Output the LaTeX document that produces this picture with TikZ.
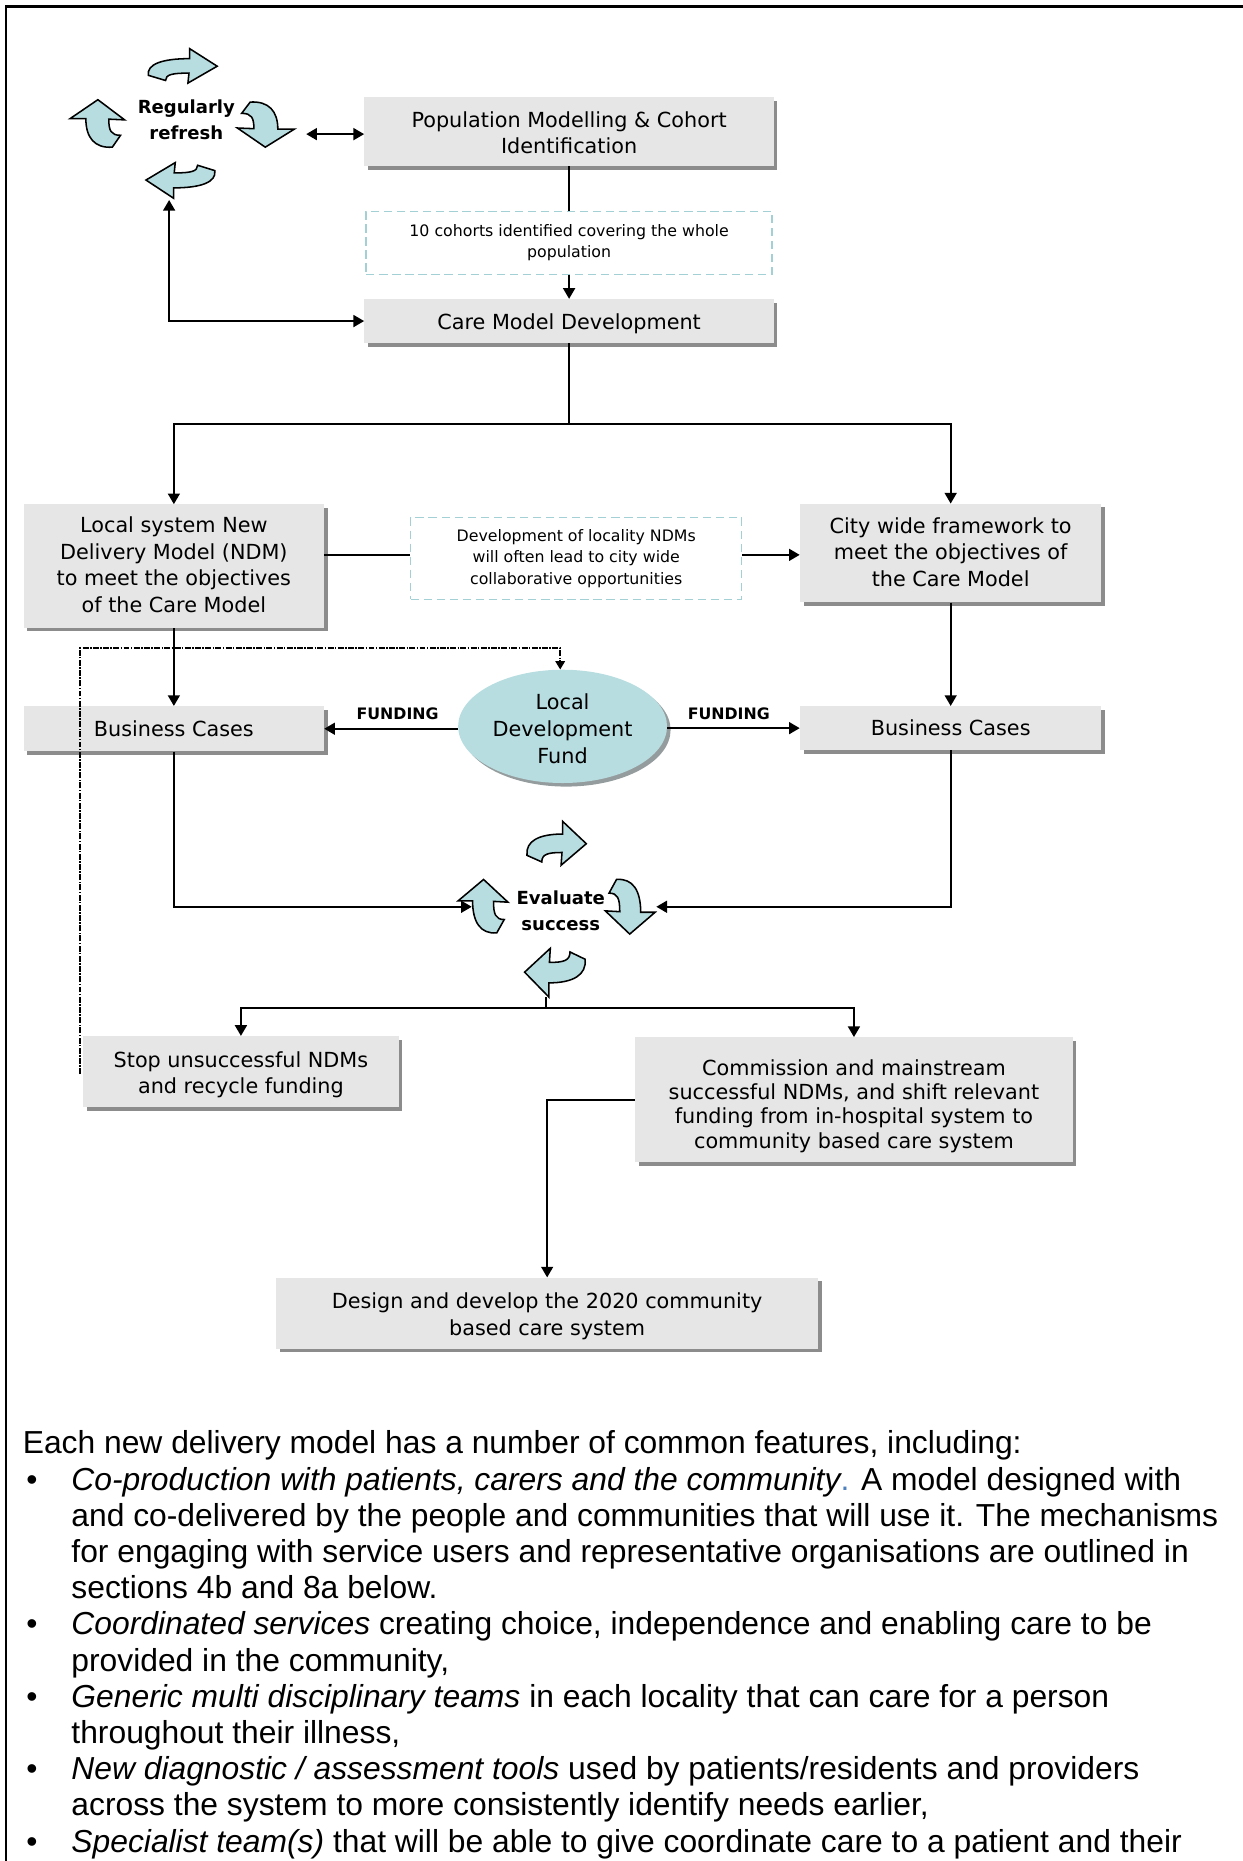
\documentclass[tikz,border=0pt]{standalone}
\usepackage{fontspec}
\setmainfont{Liberation Sans}
\newfontfamily\boxfont{DejaVu Sans}
\usetikzlibrary{arrows.meta,shadows,shapes.geometric}

\definecolor{boxgray}{HTML}{E6E6E6}
\definecolor{shadowgray}{HTML}{8C8C8C}
\definecolor{cyclefill}{HTML}{B7DDE0}
\definecolor{dashteal}{HTML}{A3D0D4}
\definecolor{notedot}{HTML}{4F81BD}

% centred lines of box text, set a little below the box centre
\newcommand\boxlines[2][-3pt]{\raisebox{#1}[\height][\depth]{\begin{tabular}{@{}c@{}}#2\end{tabular}}}

\tikzset{
  box/.style={fill=boxgray, inner sep=0pt,
    general shadow={fill=shadowgray, shadow xshift=3pt, shadow yshift=-3pt},
    font=\boxfont\fontsize{17.5}{22.3}\selectfont},
  note/.style={draw=dashteal, line width=1.1pt, dash pattern=on 7pt off 4pt,
    fill=white, inner sep=0pt, align=center,
    font=\boxfont\fontsize{13.3}{18}\selectfont},
  fund/.style={ellipse, fill=cyclefill, inner sep=0pt,
    general shadow={fill=shadowgray!80!cyclefill, shadow xshift=3pt, shadow yshift=-3pt},
    font=\boxfont\fontsize{17.5}{22.5}\selectfont},
  cyctext/.style={align=center, inner sep=0pt,
    font=\boxfont\bfseries\fontsize{15.2}{22}\selectfont},
  fundlabel/.style={inner sep=0pt, font=\boxfont\bfseries\fontsize{13.3}{16}\selectfont},
  plain/.style={line width=1.7pt},
  conn/.style={line width=1.7pt, -{Triangle[length=9pt,width=10pt]}},
  twoway/.style={line width=1.7pt, {Triangle[length=9pt,width=10pt]}-{Triangle[length=9pt,width=10pt]}},
  dotline/.style={line width=1.3pt, dash pattern=on 5pt off 1.2pt on 1.2pt off 1.2pt,
    -{Triangle[length=7pt,width=8pt]}},
  body/.style={inner sep=0pt, anchor=base west, font=\fontsize{26.8}{31}\selectfont},
  % bent block arrow pointing along +x; scaled and turned where it is placed
  cyc/.pic={
    \path[fill=cyclefill, draw=black, line width=1.3pt, line join=miter]
      (-1,0.55) .. controls (-1.05,-0.1) and (-0.6,-0.42) .. (0.2,-0.42)
      -- (0.2,-1) -- (1,0.02) -- (0.15,1) -- (0.18,0.42)
      .. controls (-0.3,0.42) and (-0.5,0.5) .. (-0.5,0.85)
      -- cycle;
  }
}

\begin{document}
\begin{tikzpicture}[x=1pt, y=-1pt]
\useasboundingbox (0,0) rectangle (1047,1568);

% page frame
\draw[line width=2pt] (5,1570) -- (5,5.5) -- (1050,5.5);

% "Regularly refresh" cycle
\pic[xscale=29, yscale=14.5] at (154,55.5) {cyc};
\pic[rotate=-90, xscale=19, yscale=24] at (224,105) {cyc};
\pic[rotate=180, xscale=29, yscale=15] at (152,152) {cyc};
\pic[rotate=90, xscale=20, yscale=23] at (82,104) {cyc};
\node[cyctext] (rf) at (157,101) {Regularly\\refresh};

% top chain
\node[box, minimum width=345pt, minimum height=58pt] (pop) at (479.5,111)
  {\boxlines{Population Modelling \& Cohort\\Identification}};
\node[note, minimum width=342pt, minimum height=53pt] (coh) at (479.5,204.5)
  {10 cohorts identified covering the whole\\population};
\node[box, minimum width=345pt, minimum height=37pt] (care) at (479.5,270.5)
  {\boxlines{Care Model Development}};

% second tier
\node[box, minimum width=253pt, minimum height=104pt] (local) at (146.5,477)
  {\boxlines[-1pt]{Local system New\\Delivery Model (NDM)\\to meet the objectives\\of the Care Model}};
\node[note, minimum width=279pt, minimum height=69pt] (ndm) at (485.5,470.5)
  {Development of locality NDMs\\will often lead to city wide\\collaborative opportunities};
\node[box, minimum width=254pt, minimum height=83pt] (city) at (801,466)
  {\boxlines[-1pt]{City wide framework to\\meet the objectives of\\the Care Model}};

% business cases and fund
\node[box, minimum width=253pt, minimum height=38pt] (bcl) at (146.5,614)
  {\boxlines[-2pt]{Business Cases}};
\node[box, minimum width=254pt, minimum height=37pt] (bcr) at (801,613.5)
  {\boxlines[-2pt]{Business Cases}};
\node[fund, minimum width=176pt, minimum height=95pt] (ldf) at (474,612)
  {\boxlines[-4pt]{Local\\Development\\Fund}};
\node[fundlabel] (fl) at (335,601.5) {FUNDING};
\node[fundlabel] (fr) at (614,601.5) {FUNDING};

% "Evaluate success" cycle
\pic[xscale=25, yscale=18.5] at (469,710.5) {cyc};
\pic[rotate=-90, xscale=23, yscale=21] at (531,764) {cyc};
\pic[rotate=180, xscale=25.5, yscale=20.5] at (467.5,819.5) {cyc};
\pic[rotate=90, xscale=22.5, yscale=21] at (407,763.5) {cyc};
\node[cyctext] (ev) at (472.5,767) {Evaluate\\success};

% outcomes
\node[box, minimum width=266pt, minimum height=60pt] (stop) at (203,903)
  {\boxlines{Stop unsuccessful NDMs\\and recycle funding}};
\node[box, minimum width=369pt, minimum height=105pt,
  font=\boxfont\fontsize{17.5}{20.5}\selectfont] (com) at (719.5,926.5)
  {\boxlines[-6pt]{Commission and mainstream\\successful NDMs, and shift relevant\\funding from in-hospital system to\\community based care system}};
\node[box, minimum width=457pt, minimum height=60pt] (des) at (461,1106.5)
  {\boxlines{Design and develop the 2020 community\\based care system}};

% connector end points
\coordinate (rfA) at (258,113);
\coordinate (rfB) at (142.5,168.5);
\coordinate (split1) at (479.5,357);
\coordinate (evL) at (397.5,764);
\coordinate (evR) at (553,764);
\coordinate (evB) at (460,840);
\coordinate (split2) at (460,849);
\coordinate (dotS) at (67.5,905);
\coordinate (dotK) at (472,546);

% connectors
\draw[twoway] (rfA) -- (rfA -| pop.west);
\draw[plain] (pop.south) -- (coh.north);
\draw[conn] (coh.south) -- (care.north);
\draw[twoway] (care.west) -| (rfB);
\draw[plain] (care.south) -- (split1);
\draw[conn] (split1) -| (local.north);
\draw[conn] (split1) -| (city.north);
\draw[plain] ([yshift=3pt]ndm.west) -- ([yshift=3pt]ndm.west -| local.east);
\draw[conn] ([yshift=3pt]ndm.east) -- ([yshift=3pt]ndm.east -| city.west);
\draw[conn] (local.south) -- (bcl.north);
\draw[conn] (city.south) -- (bcr.north);
\draw[conn] (ldf.west |- bcl.east) -- (bcl.east);
\draw[conn] (ldf.east |- bcr.west) -- (bcr.west);
\draw[dotline] (dotS) |- (dotK) -- (dotK |- ldf.north);
\draw[conn] (bcl.south) |- (evL);
\draw[conn] (bcr.south) |- (evR);
\draw[plain] (evB) -- (split2);
\draw[conn] (split2) -| (stop.north);
\draw[conn] (split2) -| (com.north);
\draw[conn] (com.west) -| (des.north);

% text below the chart
\node[body] (p0) at (19,1225) {Each new delivery model has a number of common features, including:};
\node[body] (b1) at (22,1255.5) {•};
\node[body] (l1) at (60,1255.5) {{\itshape Co-production with patients, carers and the community}\textcolor{notedot}{.} A model designed with};
\node[body] (l2) at (60,1286) {and co-delivered by the people and communities that will use it. The mechanisms};
\node[body] (l3) at (60,1316.5) {for engaging with service users and representative organisations are outlined in};
\node[body] (l4) at (60,1347) {sections 4b and 8a below.};
\node[body] (b2) at (22,1377.5) {•};
\node[body] (l5) at (60,1377.5) {\textit{Coordinated services} creating choice, independence and enabling care to be};
\node[body] (l6) at (60,1408) {provided in the community,};
\node[body] (b3) at (22,1438.5) {•};
\node[body] (l7) at (60,1438.5) {\textit{Generic multi disciplinary teams} in each locality that can care for a person};
\node[body] (l8) at (60,1469) {throughout their illness,};
\node[body] (b4) at (22,1499.5) {•};
\node[body] (l9) at (60,1499.5) {\textit{New diagnostic / assessment tools} used by patients/residents and providers};
\node[body] (l10) at (60,1530) {across the system to more consistently identify needs earlier,};
\node[body] (b5) at (22,1560.5) {•};
\node[body] (l11) at (60,1560.5) {\textit{Specialist team(s)} that will be able to give coordinate care to a patient and their};
\end{tikzpicture}
\end{document}
